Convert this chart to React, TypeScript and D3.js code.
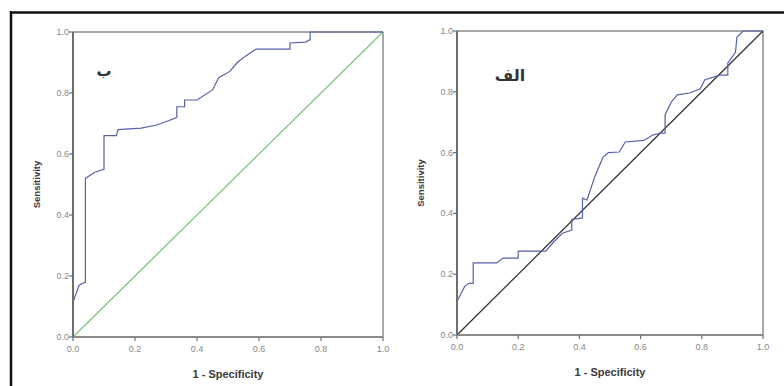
import React from "react";
import * as d3 from "d3";

// left panel (ب) ROC points
const leftFpr = [0, 0.02, 0.04, 0.04, 0.07, 0.1, 0.1, 0.14, 0.145, 0.22, 0.27, 0.31, 0.335, 0.335, 0.36, 0.36, 0.4, 0.45, 0.47, 0.505, 0.53, 0.555, 0.59, 0.7, 0.7, 0.75, 0.765, 0.765, 1];
const leftTpr = [0.115, 0.17, 0.18, 0.52, 0.54, 0.55, 0.66, 0.66, 0.68, 0.685, 0.695, 0.71, 0.72, 0.755, 0.755, 0.777, 0.777, 0.81, 0.85, 0.87, 0.9, 0.92, 0.944, 0.944, 0.964, 0.967, 0.975, 1, 1];

// right panel (الف)
const rightFpr = [0, 0.025, 0.04, 0.053, 0.053, 0.13, 0.15, 0.2, 0.2, 0.29, 0.315, 0.345, 0.375, 0.375, 0.41, 0.41, 0.425, 0.45, 0.477, 0.495, 0.53, 0.55, 0.61, 0.64, 0.665, 0.68, 0.68, 0.7, 0.72, 0.76, 0.795, 0.81, 0.86, 0.885, 0.885, 0.91, 0.915, 0.935, 1];
const rightTpr = [0.11, 0.16, 0.17, 0.17, 0.237, 0.237, 0.253, 0.253, 0.276, 0.276, 0.305, 0.335, 0.345, 0.38, 0.385, 0.45, 0.444, 0.52, 0.585, 0.6, 0.602, 0.635, 0.64, 0.658, 0.664, 0.664, 0.724, 0.766, 0.79, 0.796, 0.81, 0.84, 0.855, 0.855, 0.895, 0.93, 0.98, 1, 1];

const ticks = [0, 0.2, 0.4, 0.6, 0.8, 1.0];

const font = "Liberation Sans, Arial, sans-serif";

type PanelProps = {
  x0: number;
  x1: number;
  y0: number;
  y1: number;
  fpr: number[];
  tpr: number[];
  diagColor: string;
  label: string;
  labelX: number;
  labelY: number;
  labelSize: number;
  yTitleX: number;
};

const Panel = (p: PanelProps) => {
  const x = d3.scaleLinear().domain([0, 1]).range([p.x0, p.x1]);
  const y = d3.scaleLinear().domain([0, 1]).range([p.y0, p.y1]);
  const pts = p.fpr.map((f, i) => [f, p.tpr[i]] as [number, number]);
  const line = d3
    .line<[number, number]>()
    .x((d) => x(d[0]))
    .y((d) => y(d[1]));

  return (
    <g>
      {/* frame top/right */}
      <line x1={x(0)} x2={x(1)} y1={y(1)} y2={y(1)} stroke="#a8a8a8" strokeWidth={2} />
      <line x1={x(1)} x2={x(1)} y1={y(1)} y2={y(0)} stroke="#8a8a8a" strokeWidth={1.5} />
      {/* diagonal */}
      <line x1={x(0)} y1={y(0)} x2={x(1)} y2={y(1)} stroke={p.diagColor} strokeWidth={1.3} />
      {/* roc curve */}
      <path d={line(pts) || ""} fill="none" stroke="#5562a8" strokeWidth={1.2} />
      {/* axes */}
      <line x1={x(0)} x2={x(1)} y1={y(0)} y2={y(0)} stroke="#8a8a8a" strokeWidth={2} />
      <line x1={x(0)} x2={x(0)} y1={y(0)} y2={y(1)} stroke="#6e6e6e" strokeWidth={2} />
      {ticks.map((t) => (
        <g key={"x" + t}>
          <line x1={x(t)} x2={x(t)} y1={y(0)} y2={y(0) + 4} stroke="#6e6e6e" strokeWidth={1.2} />
          <text x={x(t)} y={y(0) + 15} textAnchor="middle" fontSize={9} fill="#888" fontFamily={font}>
            {t.toFixed(1)}
          </text>
        </g>
      ))}
      {ticks.map((t) => (
        <g key={"y" + t}>
          <line x1={x(0) - 4} x2={x(0)} y1={y(t)} y2={y(t)} stroke="#6e6e6e" strokeWidth={1.2} />
          <text x={x(0) - 4} y={y(t) + 3} textAnchor="end" fontSize={9} fill="#888" fontFamily={font}>
            {t.toFixed(1)}
          </text>
        </g>
      ))}
      <text
        x={(x(0) + x(1)) / 2}
        y={y(0) + 41}
        textAnchor="middle"
        fontSize={11}
        fontWeight="bold"
        fill="#3a3a3a"
        fontFamily={font}
      >
        1 - Specificity
      </text>
      <text
        transform={`translate(${p.yTitleX},${(y(0) + y(1)) / 2}) rotate(-90)`}
        textAnchor="middle"
        fontSize={9.5}
        fontWeight="bold"
        fill="#3a3a3a"
        fontFamily={font}
      >
        Sensitivity
      </text>
      <text
        x={p.labelX}
        y={p.labelY}
        textAnchor="middle"
        fontSize={p.labelSize}
        fontWeight="bold"
        fill="#333"
        fontFamily="DejaVu Sans, sans-serif"
      >
        {p.label}
      </text>
    </g>
  );
};

const App = () => {
  return (
    <svg
      width={784}
      height={386}
      style={{ position: "absolute", left: 0, top: 0, background: "#fff" }}
    >
      <rect x={0} y={0} width={784} height={386} fill="#fff" />
      <line x1={10} x2={784} y1={12.5} y2={12.5} stroke="#111" strokeWidth={2.5} />
      <line x1={11} x2={11} y1={11} y2={386} stroke="#111" strokeWidth={2.5} />
      <Panel
        x0={73}
        x1={383}
        y0={337}
        y1={32}
        fpr={leftFpr}
        tpr={leftTpr}
        diagColor="#7cc67c"
        label="ب"
        labelX={104}
        labelY={76}
        labelSize={15}
        yTitleX={40}
      />
      <Panel
        x0={457}
        x1={763}
        y0={335}
        y1={31}
        fpr={rightFpr}
        tpr={rightTpr}
        diagColor="#333"
        label="الف"
        labelX={510}
        labelY={81}
        labelSize={16}
        yTitleX={424}
      />
    </svg>
  );
};

export default App;
